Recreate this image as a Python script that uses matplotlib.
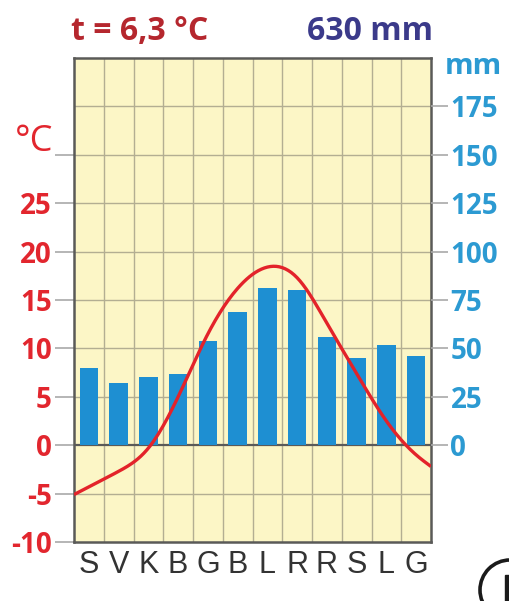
import numpy as np
import matplotlib
matplotlib.use("Agg")
import matplotlib.pyplot as plt
from matplotlib.patches import Circle, Rectangle

months = ["S", "V", "K", "B", "G", "B", "L", "R", "R", "S", "L", "G"]
precip_mm = [40, 32, 35, 37, 54, 69, 81, 80, 56, 45, 52, 46]
temp_c = [-4.3, -2.7, -0.3, 5.0, 11.5, 16.2, 18.4, 17.3, 12.6, 7.4, 2.5, -1.0]
temp_start = -5.1
temp_end = -2.2
title_temp = "t = 6,3 °C"
title_precip = "630 mm"
temp_ticks = [-10, -5, 0, 5, 10, 15, 20, 25]
mm_ticks = [0, 25, 50, 75, 100, 125, 150, 175]

BG = "#FCF6C6"
GRID = "#B3AE92"
FRAME = "#5a5a58"
BAR = "#1E8FD2"
RED = "#E3232A"
RED_LBL = "#E2262E"
BLUE_LBL = "#2C9AD2"
TITLE_RED = "#B5272E"
TITLE_BLUE = "#3B3A8A"

FONT = ["Open Sans", "DejaVu Sans"]
NARROW = ["Liberation Sans Narrow", "Liberation Sans", "DejaVu Sans"]

fig = plt.figure(figsize=(5.09, 6.01), dpi=100)
ax = fig.add_axes([74 / 509, 1 - 542 / 601, (431 - 74) / 509, (542 - 58) / 601])
ax.set_facecolor(BG)
ax.set_xlim(0, 12)
ax.set_ylim(-10, 40)

# grid
for i in range(1, 12):
    ax.axvline(i, color=GRID, lw=1.0, zorder=1)
for t in range(-5, 40, 5):
    if t != 0:
        ax.axhline(t, color=GRID, lw=1.0, zorder=1)

# precipitation bars on twin axis scaled 5 mm per 1 °C
ax2 = ax.twinx()
ax2.set_ylim(-50, 200)
x = np.arange(12) + 0.5
ax2.bar(x, precip_mm, width=0.63, color=BAR, zorder=3)

# zero line
ax.axhline(0, color=FRAME, lw=1.6, zorder=4)

# temperature curve: natural cubic spline through edge + monthly values
xs = np.concatenate([[0.0], x, [12.0]])
ys = np.concatenate([[temp_start], temp_c, [temp_end]])
n = len(xs)
h = np.diff(xs)
A = np.zeros((n, n))
b = np.zeros(n)
A[0, 0] = 1
A[-1, -1] = 1
for i in range(1, n - 1):
    A[i, i - 1] = h[i - 1]
    A[i, i] = 2 * (h[i - 1] + h[i])
    A[i, i + 1] = h[i]
    b[i] = 3 * ((ys[i + 1] - ys[i]) / h[i] - (ys[i] - ys[i - 1]) / h[i - 1])
c = np.linalg.solve(A, b)
xx, yy = [], []
for i in range(n - 1):
    bi = (ys[i + 1] - ys[i]) / h[i] - h[i] * (2 * c[i] + c[i + 1]) / 3
    di = (c[i + 1] - c[i]) / (3 * h[i])
    tt = np.linspace(0, h[i], 20, endpoint=(i == n - 2))
    xx.extend(xs[i] + tt)
    yy.extend(ys[i] + bi * tt + c[i] * tt ** 2 + di * tt ** 3)
ax2.plot(xx, np.array(yy) * 5, color=RED, lw=2.4, zorder=5, solid_capstyle="butt")

# frame
for s in ["left", "right", "top", "bottom"]:
    ax.spines[s].set_color(FRAME)
    ax.spines[s].set_linewidth(1.8)
    ax.spines[s].set_zorder(6)
for s in ax2.spines.values():
    s.set_visible(False)

ax.set_xticks(x)
ax.set_xticklabels(months, family=NARROW, fontsize=22, color="#333333")
ax.tick_params(axis="x", length=0, pad=6)

ax.set_yticks(temp_ticks + [30])
ax.set_yticklabels([str(t) for t in temp_ticks] + [""], family=FONT, fontsize=20,
                   color=RED_LBL, fontweight="bold")
ax.tick_params(axis="y", length=14, width=1.2, color="#A9A9A9", pad=2)

ax2.set_yticks(mm_ticks)
ax2.set_yticklabels([str(m) for m in mm_ticks], family=FONT, fontsize=20,
                    color=BLUE_LBL, fontweight="bold")
ax2.tick_params(axis="y", length=12, width=1.2, color="#A9A9A9", pad=2)

# unit labels
fig.text(53 / 509, 1 - 142 / 601, "°C", family=FONT, fontsize=26, color=RED_LBL,
         ha="right", va="center")
fig.text(445 / 509, 1 - 66 / 601, "mm", family=FONT, fontsize=21, color=BLUE_LBL,
         ha="left", va="center", fontweight="bold")

# titles
fig.text(71 / 509, 1 - 32 / 601, title_temp, family=FONT, fontsize=23, color=TITLE_RED,
         ha="left", va="center", fontweight="bold")
fig.text(433 / 509, 1 - 32 / 601, title_precip, family=FONT, fontsize=23, color=TITLE_BLUE,
         ha="right", va="center", fontweight="bold")

# partial circle at bottom-right corner
circ = Circle((510, 601 - 590), 30, transform=None, fill=False, ec="#1a1a1a", lw=2.6)
fig.patches.append(circ)
rect = Rectangle((505, 0), 6, 601 - 575, transform=None, color="#1a1a1a")
fig.patches.append(rect)

fig.savefig("out.png", dpi=100, facecolor="white")
